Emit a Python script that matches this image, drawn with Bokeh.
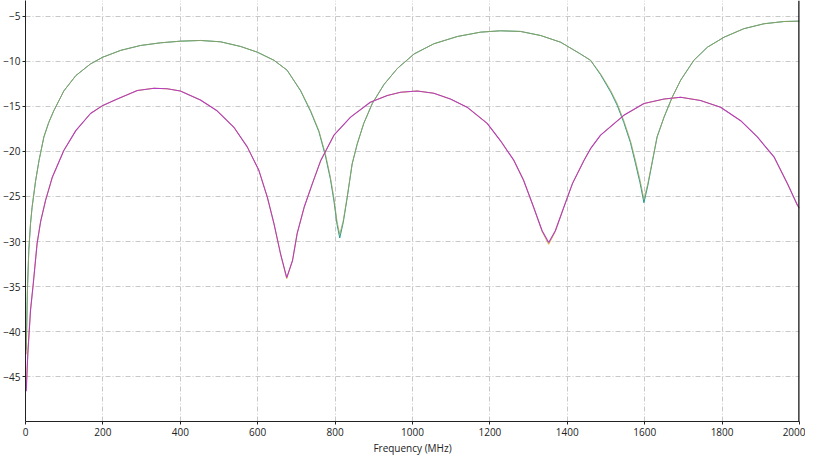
from bokeh.plotting import figure
from bokeh.models import Range1d, FixedTicker, Span
from bokeh.embed import file_html
from bokeh.resources import INLINE

# ---- data ----
freq_a = [2, 5, 8.5, 13, 17, 26, 35, 47.5, 60, 73, 99, 130, 168, 200, 246, 297, 349, 400, 452, 504,
          556, 599, 642, 676, 711, 737, 758, 775, 788, 797, 805, 812, 821, 831, 844, 857, 874, 896,
          926, 961, 1004, 1055, 1116, 1176, 1227, 1279, 1331, 1383, 1434, 1460, 1486, 1512, 1529,
          1546, 1563, 1576, 1588, 1598, 1608, 1620, 1632, 1650, 1671, 1693, 1727, 1762, 1805, 1856,
          1908, 1960, 2000]
olive_db = [-42.5, -35.5, -31.0, -28.0, -26.2, -23.3, -21.0, -18.4, -16.8, -15.5, -13.3, -11.6, -10.3,
            -9.55, -8.8, -8.26, -7.96, -7.78, -7.7, -7.85, -8.37, -9.0, -9.9, -11.0, -13.25, -15.5,
            -17.7, -20.3, -22.9, -25.2, -27.8, -29.2, -27.7, -25.1, -21.4, -19.2, -16.9, -14.7,
            -12.6, -10.8, -9.2, -8.07, -7.26, -6.78, -6.63, -6.7, -7.15, -7.9, -9.2, -9.9, -11.4,
            -13.25, -14.7, -16.6, -18.8, -21.0, -23.2, -25.3, -23.6, -21.0, -18.4, -16.2, -14.0,
            -12.1, -9.9, -8.45, -7.34, -6.4, -5.85, -5.6, -5.56]
teal_db = [-42.0, -35.3, -31.0, -28.0, -26.2, -23.3, -21.0, -18.4, -16.8, -15.5, -13.3, -11.6, -10.3,
           -9.55, -8.8, -8.26, -7.96, -7.78, -7.7, -7.85, -8.37, -9.0, -9.9, -11.0, -13.3, -15.6,
           -17.8, -20.5, -23.1, -25.5, -28.1, -29.6, -27.9, -25.2, -21.4, -19.2, -16.9, -14.7,
           -12.6, -10.8, -9.2, -8.07, -7.26, -6.78, -6.63, -6.7, -7.15, -7.9, -9.2, -9.9, -11.5,
           -13.4, -14.9, -16.8, -19.0, -21.3, -23.5, -25.7, -23.8, -21.1, -18.4, -16.2, -14.0,
           -12.1, -9.9, -8.45, -7.34, -6.4, -5.85, -5.6, -5.56]

freq_b = [2, 3, 6, 13, 20, 30, 39, 52, 69, 99, 130, 168, 200, 237, 289, 332, 366, 400, 452, 495,
          538, 573, 603, 625, 642, 659, 675, 690, 702, 720, 741, 763, 797, 840, 891, 935, 969, 1012,
          1055, 1098, 1141, 1193, 1227, 1262, 1287, 1313, 1335, 1352, 1369, 1391, 1413, 1443, 1460,
          1486, 1546, 1598, 1650, 1693, 1744, 1796, 1848, 1891, 1934, 1969, 1995, 2000]
gold_db = [-46.3, -45.3, -42.4, -37.6, -34.7, -30.2, -27.8, -25.4, -22.9, -19.9, -17.7, -15.8, -14.9,
           -14.2, -13.25, -13.0, -13.06, -13.3, -14.3, -15.5, -17.3, -19.5, -22.1, -25.1, -28.0,
           -31.4, -34.1, -32.1, -29.1, -26.2, -23.6, -21.0, -18.2, -16.2, -14.55, -13.8, -13.45,
           -13.3, -13.55, -14.2, -15.1, -16.9, -18.8, -21.0, -23.2, -26.2, -28.9, -30.3, -28.9,
           -26.2, -23.6, -21.0, -19.7, -18.2, -16.0, -14.7, -14.2, -14.0, -14.35, -15.1, -16.6,
           -18.4, -20.6, -23.6, -26.0, -26.3]
magenta_db = [-46.6, -45.5, -42.4, -37.6, -34.7, -30.2, -27.8, -25.4, -22.9, -19.9, -17.7, -15.8, -14.9,
              -14.2, -13.25, -13.0, -13.06, -13.3, -14.3, -15.5, -17.3, -19.5, -22.1, -25.1, -28.0,
              -31.35, -34.0, -32.1, -29.1, -26.2, -23.6, -21.0, -18.2, -16.2, -14.55, -13.8, -13.45,
              -13.3, -13.55, -14.2, -15.1, -16.9, -18.8, -21.0, -23.2, -26.2, -28.8, -30.1, -28.8,
              -26.2, -23.6, -21.0, -19.7, -18.2, -16.0, -14.7, -14.2, -14.0, -14.35, -15.1, -16.6,
              -18.4, -20.6, -23.6, -26.0, -26.3]

x_ticks = [0, 200, 400, 600, 800, 1000, 1200, 1400, 1600, 1800, 2000]
y_ticks = [-45, -40, -35, -30, -25, -20, -15, -10, -5]

FONT = "Open Sans"

p = figure(width=805, height=457, output_backend="svg", toolbar_location=None,
           x_range=Range1d(0, 2000), y_range=Range1d(-49.95, -3.27),
           min_border_left=25, min_border_right=6, min_border_top=0, min_border_bottom=36)
p.outline_line_color = None
p.background_fill_color = "white"
p.border_fill_color = "white"

p.line(freq_a, teal_db, line_color="#1f9c8c", line_width=1)
p.line(freq_a, olive_db, line_color="#a0a05a", line_width=1, line_alpha=0.8)
p.line(freq_b, gold_db, line_color="#cdb03c", line_width=1)
p.line(freq_b, magenta_db, line_color="#b63cc0", line_width=1.1)

for ax in (p.xaxis[0], p.yaxis[0]):
    ax.axis_line_color = "#222222"
    ax.axis_line_width = 1
    ax.major_tick_line_color = "#222222"
    ax.major_tick_in = 0
    ax.major_tick_out = 3
    ax.minor_tick_line_color = None
    ax.major_label_text_font = FONT
    ax.major_label_text_font_size = "10px"
    ax.major_label_text_color = "#222222"

p.xaxis.ticker = FixedTicker(ticks=x_ticks)
p.yaxis.ticker = FixedTicker(ticks=y_ticks)
p.xaxis.major_label_standoff = 3
p.yaxis.major_label_standoff = 2
p.xaxis.axis_label = "Frequency (MHz)"
p.xaxis.axis_label_text_font = FONT
p.xaxis.axis_label_text_font_size = "10px"
p.xaxis.axis_label_text_font_style = "normal"
p.xaxis.axis_label_text_color = "#222222"
p.xaxis.axis_label_standoff = 2

p.add_layout(Span(location=2000, dimension="height", line_color="#111111", line_width=2.5))

for g in (p.xgrid[0], p.ygrid[0]):
    g.grid_line_color = "#c8c8c8"
    g.grid_line_dash = "5 2 1 2"
    g.grid_line_width = 1

open("out.html", "w").write(file_html(p, INLINE))
